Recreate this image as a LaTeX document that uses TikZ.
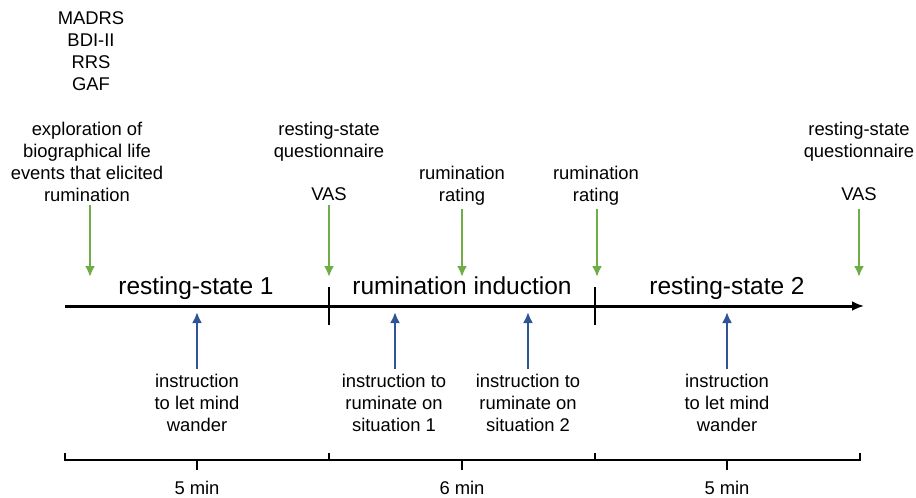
\documentclass[tikz,border=0pt]{standalone}
\usepackage{fontspec}
\setmainfont{Liberation Sans}
\usetikzlibrary{arrows.meta}
\definecolor{markgreen}{RGB}{112,173,71}
\definecolor{instrblue}{RGB}{47,85,151}
\begin{document}
\begin{tikzpicture}[x=1pt,y=-1pt,
    lbl/.style={align=center,inner sep=0pt,anchor=north,
        font=\fontsize{18.4}{22}\selectfont},
    phase/.style={inner sep=0pt,anchor=north,
        font=\fontsize{24.5}{28}\selectfont},
    garrow/.style={line width=2.4pt,markgreen,-{Latex[length=11pt,width=10pt]}},
    barrow/.style={line width=2.4pt,instrblue,-{Latex[length=11pt,width=10pt]}}]
    \useasboundingbox (0,0) rectangle (916,498);
    \def\axy{306}
    \def\bry{460}
    % time axis
    \coordinate (start) at (65,\axy);
    \coordinate (end) at (864,\axy);
    \draw[line width=3pt,-{Latex[length=12pt,width=10pt]}] (start) -- (end);
    \foreach \x [count=\i] in {329,595}
        {\coordinate (tick\i top) at (\x,287);
         \coordinate (tick\i bot) at (\x,325);
         \draw[line width=2.4pt] (tick\i top) -- (tick\i bot);}
    \node[phase] (rs1) at (196,277) {resting-state 1};
    \node[phase] (ri) at (462,277) {rumination induction};
    \node[phase] (rs2) at (727,277) {resting-state 2};
    % measurements (green)
    \node[lbl] (scales) at (91,11) {MADRS\\BDI-II\\RRS\\GAF};
    \node[lbl] (explore) at (87,122)
        {exploration of\\biographical life\\events that elicited\\rumination};
    \node[lbl] (quest1) at (329,122) {resting-state\\questionnaire};
    \node[lbl] (vas1) at (329,187) {VAS};
    \node[lbl] (rate1) at (462,166) {rumination\\rating};
    \node[lbl] (rate2) at (596,166) {rumination\\rating};
    \node[lbl] (quest2) at (859,122) {resting-state\\questionnaire};
    \node[lbl] (vas2) at (859,187) {VAS};
    \foreach \n/\x/\y in {g1/90/205,g2/329/205,g3/462/209,g4/597/209,g5/859/209}
        {\coordinate (\n top) at (\x,\y);
         \coordinate (\n tip) at (\x,277);
         \draw[garrow] (\n top) -- (\n tip);}
    % instructions (blue)
    \node[lbl] (mind1) at (197,374) {instruction\\to let mind\\wander};
    \node[lbl] (sit1) at (394,374) {instruction to\\ruminate on\\situation 1};
    \node[lbl] (sit2) at (528,374) {instruction to\\ruminate on\\situation 2};
    \node[lbl] (mind2) at (727,374) {instruction\\to let mind\\wander};
    \foreach \n/\x in {b1/197,b2/395,b3/528,b4/727}
        {\coordinate (\n foot) at (\x,369);
         \coordinate (\n tip) at (\x,312);
         \draw[barrow] (\n foot) -- (\n tip);}
    % durations
    \draw[line width=1.2pt] (65,453) -- (65,\bry) -- (860,\bry) -- (860,453);
    \foreach \x in {329,595}
        {\draw[line width=1.2pt] (\x,453) -- (\x,\bry);}
    \foreach \x/\t [count=\i] in {197/5,462/6,727/5}
        {\draw[line width=1.2pt] (\x,\bry) -- (\x,470);
         \node[lbl] (dur\i) at (\x,481) {\t\ min};}
\end{tikzpicture}
\end{document}
